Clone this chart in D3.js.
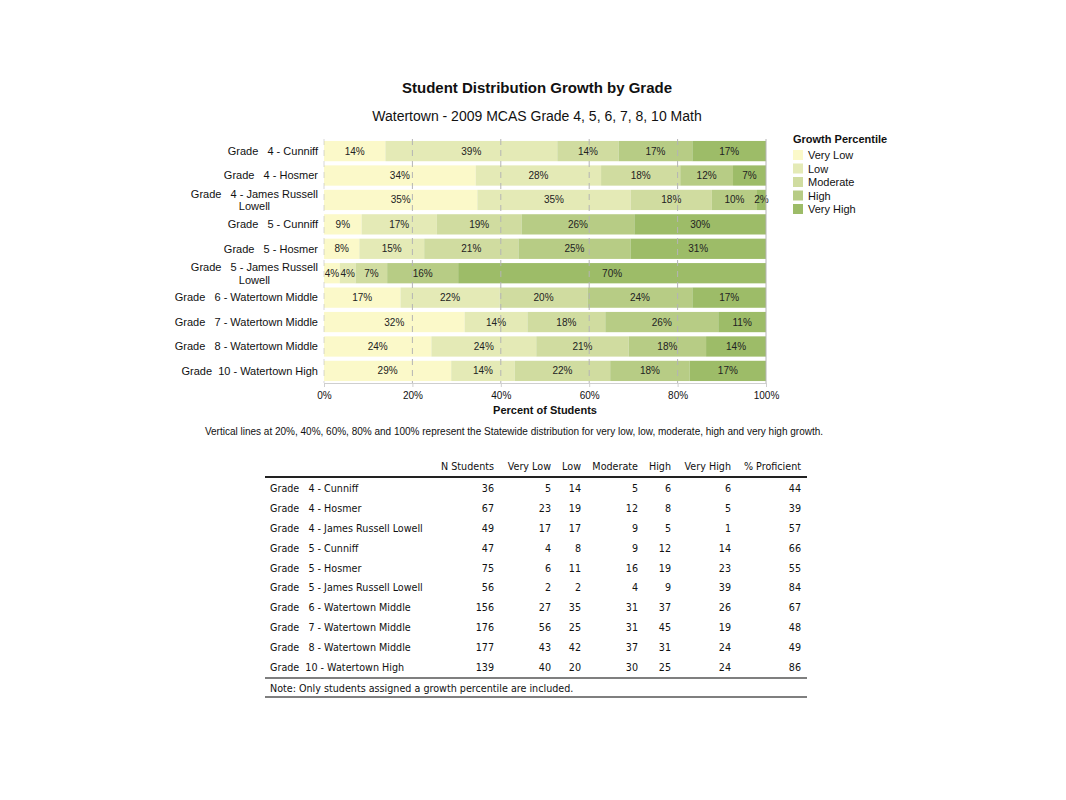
<!DOCTYPE html>
<html lang="en">
<head>
  <meta charset="UTF-8">
  <title>Student Distribution Growth by Grade</title>
  <script src="https://cdn.jsdelivr.net/npm/d3@7"></script>
  <style>
    body { margin: 0; background: #fff; }
    svg text { font-family: "Liberation Sans", Arial, sans-serif; fill: #111; }
    .tbl text { font-family: "DejaVu Sans", sans-serif; font-size: 9.6px; }
  </style>
</head>
<body>
<script>
  // rows of the chart and the table (same order)
  var rowNames = ["Grade   4 - Cunniff", "Grade   4 - Hosmer", "Grade   4 - James Russell Lowell",
                  "Grade   5 - Cunniff", "Grade   5 - Hosmer", "Grade   5 - James Russell Lowell",
                  "Grade   6 - Watertown Middle", "Grade   7 - Watertown Middle",
                  "Grade   8 - Watertown Middle", "Grade  10 - Watertown High"];
  // chart labels wrap on two lines for the long ones
  var chartLabels = [["Grade   4 - Cunniff"], ["Grade   4 - Hosmer"], ["Grade   4 - James Russell", "Lowell"],
                     ["Grade   5 - Cunniff"], ["Grade   5 - Hosmer"], ["Grade   5 - James Russell", "Lowell"],
                     ["Grade   6 - Watertown Middle"], ["Grade   7 - Watertown Middle"],
                     ["Grade   8 - Watertown Middle"], ["Grade  10 - Watertown High"]];
  var growthLevels = ["Very Low", "Low", "Moderate", "High", "Very High"];
  var levelColors = ["#fbf9c9", "#e4eab6", "#d0dca0", "#b7cc85", "#9dbc68"];

  var nStudents  = [36, 67, 49, 47, 75, 56, 156, 176, 177, 139];
  var veryLow    = [5, 23, 17, 4, 6, 2, 27, 56, 43, 40];
  var low        = [14, 19, 17, 8, 11, 2, 35, 25, 42, 20];
  var moderate   = [5, 12, 9, 9, 16, 4, 31, 31, 37, 30];
  var high       = [6, 8, 5, 12, 19, 9, 37, 45, 31, 25];
  var veryHigh   = [6, 5, 1, 14, 23, 39, 26, 19, 24, 24];
  var proficient = [44, 39, 57, 66, 55, 84, 67, 48, 49, 86];
  var xTicks = [0, 20, 40, 60, 80, 100];

  var svg = d3.select("body").append("svg").attr("width", 1066).attr("height", 800);

  // titles
  svg.append("text").attr("x", 537).attr("y", 93).attr("text-anchor", "middle")
     .style("font-size", "15px").style("font-weight", "bold").text("Student Distribution Growth by Grade");
  svg.append("text").attr("x", 537).attr("y", 121).attr("text-anchor", "middle")
     .style("font-size", "14px").text("Watertown - 2009 MCAS Grade 4, 5, 6, 7, 8, 10 Math");

  var x = d3.scaleLinear().domain([0, 100]).range([324, 766]);
  var y = d3.scaleBand().domain(d3.range(rowNames.length)).range([139, 383]).paddingInner(0.17).paddingOuter(0.08);

  // stacked percent data per row
  var counts = [veryLow, low, moderate, high, veryHigh];
  var rows = rowNames.map(function(name, i) {
    var acc = 0;
    var segs = counts.map(function(arr, k) {
      var p = arr[i] / nStudents[i] * 100;
      var s = { row: i, level: k, x0: acc, x1: acc + p, pct: p };
      acc += p;
      return s;
    });
    return segs;
  });

  var bars = svg.append("g");
  var seg = bars.selectAll("g.row").data(rows).enter().append("g")
     .attr("transform", function(d, i) { return "translate(0," + y(i) + ")"; });

  seg.selectAll("rect").data(function(d) { return d; }).enter().append("rect")
     .attr("x", function(d) { return x(d.x0); })
     .attr("width", function(d) { return x(d.x1) - x(d.x0); })
     .attr("height", y.bandwidth())
     .attr("fill", function(d) { return levelColors[d.level]; });

  // reference lines (statewide distribution)
  svg.append("g").selectAll("line").data(xTicks).enter().append("line")
     .attr("x1", function(d) { return x(d); }).attr("x2", function(d) { return x(d); })
     .attr("y1", 139).attr("y2", 383)
     .attr("stroke", "#b4b4b4").attr("stroke-width", 1)
     .attr("stroke-dasharray", function(d) { return d === 100 ? null : "6,5"; })
     .attr("opacity", function(d) { return d === 0 ? 0.5 : 1; });

  seg.selectAll("text").data(function(d) { return d; }).enter().append("text")
     .attr("x", function(d) { return (x(d.x0) + x(d.x1)) / 2; })
     .attr("y", y.bandwidth() / 2)
     .attr("dy", "0.35em")
     .attr("text-anchor", "middle")
     .style("font-size", "10px").style("fill", "#222")
     .text(function(d) { return Math.round(d.pct) + "%"; });

  // bottom axis
  var xAxis = d3.axisBottom(x).tickValues(xTicks).tickSize(4).tickFormat(function(d) { return d + "%"; });
  var ax = svg.append("g").attr("transform", "translate(0,383)").call(xAxis);
  ax.select(".domain").attr("stroke", "#cfcfcf");
  ax.selectAll(".tick line").attr("stroke", "#cfcfcf");
  ax.selectAll(".tick text").style("font-size", "10px").style("font-family", "Liberation Sans, Arial, sans-serif")
    .attr("fill", "#111").attr("dy", "0.9em");

  svg.append("text").attr("x", 545).attr("y", 414).attr("text-anchor", "middle")
     .style("font-size", "11px").style("font-weight", "bold").text("Percent of Students");
  svg.append("text").attr("x", 514).attr("y", 435).attr("text-anchor", "middle")
     .style("font-size", "10px")
     .text("Vertical lines at 20%, 40%, 60%, 80% and 100% represent the Statewide distribution for very low, low, moderate, high and very high growth.");

  // category labels, right aligned block, lines centered
  var lab = svg.append("g").selectAll("g").data(chartLabels).enter().append("g")
     .attr("transform", function(d, i) { return "translate(0," + (y(i) + y.bandwidth() / 2) + ")"; });
  lab.each(function(lines) {
    var g = d3.select(this);
    var first = g.append("text").attr("xml:space", "preserve").style("white-space", "pre")
       .style("font-size", "11px").attr("text-anchor", "end").attr("x", 318)
       .attr("dy", lines.length > 1 ? "-0.2em" : "0.35em").text(lines[0]);
    if (lines.length > 1) {
      var w = first.node().getComputedTextLength();
      g.append("text").style("font-size", "11px").attr("text-anchor", "middle")
       .attr("x", 318 - w / 2).attr("dy", "0.95em").text(lines[1]);
    }
  });

  // legend
  var leg = svg.append("g").attr("transform", "translate(793,0)");
  leg.append("text").attr("y", 143).style("font-size", "11px").style("font-weight", "bold").text("Growth Percentile");
  var li = leg.selectAll("g").data(growthLevels).enter().append("g")
     .attr("transform", function(d, i) { return "translate(0," + (150 + i * 13.5) + ")"; });
  li.append("rect").attr("width", 10).attr("height", 10).attr("fill", function(d, i) { return levelColors[i]; });
  li.append("text").attr("x", 15).attr("y", 9).style("font-size", "11px").text(function(d) { return d; });

  // table
  var tbl = svg.append("g").attr("class", "tbl");
  var colHeads = ["N Students", "Very Low", "Low", "Moderate", "High", "Very High", "% Proficient"];
  var colRight = [494, 551, 581, 638, 671, 731, 801];
  var colData = [nStudents, veryLow, low, moderate, high, veryHigh, proficient];
  var rowY = d3.scaleLinear().domain([0, rowNames.length - 1]).range([492, 671]);

  tbl.selectAll("text.h").data(colHeads).enter().append("text").attr("class", "h")
     .attr("x", function(d, i) { return colRight[i]; }).attr("y", 470).attr("text-anchor", "end").text(function(d) { return d; });
  tbl.append("line").attr("x1", 265).attr("x2", 807).attr("y1", 477).attr("y2", 477).attr("stroke", "#222").attr("stroke-width", 2);

  tbl.selectAll("text.r").data(rowNames).enter().append("text").attr("class", "r")
     .attr("xml:space", "preserve").style("white-space", "pre")
     .attr("x", 270).attr("y", function(d, i) { return rowY(i); }).text(function(d) { return d; });

  colData.forEach(function(arr, c) {
    tbl.selectAll("text.c" + c).data(arr).enter().append("text").attr("class", "c" + c)
       .attr("x", colRight[c]).attr("y", function(d, i) { return rowY(i); }).attr("text-anchor", "end")
       .text(function(d) { return d; });
  });

  tbl.append("line").attr("x1", 265).attr("x2", 807).attr("y1", 678).attr("y2", 678).attr("stroke", "#555").attr("stroke-width", 1.5);
  tbl.append("text").attr("x", 270).attr("y", 692).text("Note: Only students assigned a growth percentile are included.");
  tbl.append("line").attr("x1", 265).attr("x2", 807).attr("y1", 697).attr("y2", 697).attr("stroke", "#555").attr("stroke-width", 1.5);
</script>
</body>
</html>
